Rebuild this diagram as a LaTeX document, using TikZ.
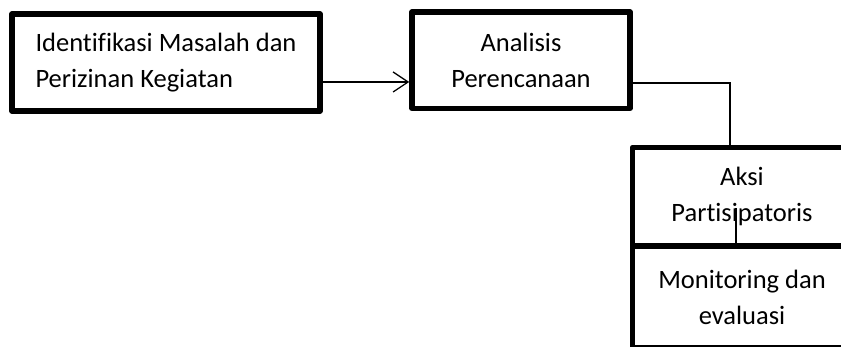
\documentclass[tikz,border=0pt]{standalone}
\usepackage{fontspec}
\setmainfont{Carlito}[Ligatures=NoCommon]
\usetikzlibrary{arrows.meta,positioning}

\begin{document}
\begin{tikzpicture}[x=1pt,y=1pt,
	box/.style={draw, line width=5.5pt, line join=round, inner sep=0pt,
		font=\fontsize{26.5}{36}\selectfont},
	link/.style={line width=1.3pt},
	arr/.style={line width=1.3pt, -{Straight Barb[length=15pt,width=20pt,line width=1.3pt]}}]
	\clip (0,0) rectangle (841,347);

	\node [box, minimum width=308pt, minimum height=97pt, align=left]
		(ident) at (166,284.5) {Identifikasi Masalah dan\\Perizinan Kegiatan};

	\node [box, minimum width=218pt, minimum height=96.5pt, align=center]
		(analisis) at (521,286.75) {Analisis\\Perencanaan};

	\node [box, minimum width=219pt, minimum height=98.5pt, align=center]
		(aksi) at (742,150.25) {Aksi\\Partisipatoris};

	\node [box, minimum width=219pt, minimum height=102pt, align=center]
		(monitor) at (742,50) {Monitoring dan\\evaluasi};

	\coordinate (a1) at ([yshift=-19.5pt]ident.east);
	\draw [arr] (a1) -- (a1 -| analisis.west);

	\coordinate (a2) at ([yshift=-22.75pt]analisis.east);
	\draw [link] (a2) -| ([xshift=-12pt]aksi.north);

	\draw [link] ([xshift=-6pt]monitor.north) -- ++(0,35);
\end{tikzpicture}
\end{document}
